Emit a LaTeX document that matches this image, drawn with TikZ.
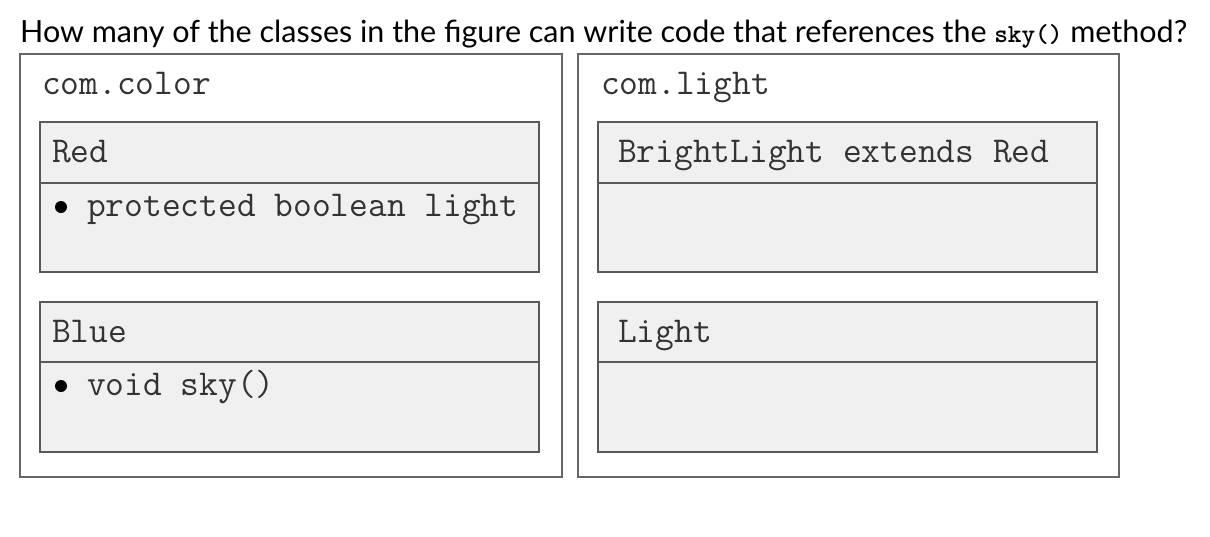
\documentclass[tikz,border=0pt]{standalone}
\usepackage{fontspec}
\setmainfont{Lato}
\begin{document}
\begin{tikzpicture}[x=1pt,y=-1pt,
  pkg/.style={draw=black!60,line width=1.6pt,fill=white},
  cls/.style={draw=black!65,line width=1.4pt,fill=gray!12},
  divider/.style={draw=black!65,line width=1.4pt},
  mono/.style={anchor=base west,inner sep=0pt,font=\ttfamily\fontsize{36.4}{37}\selectfont,text=black!80},
  title/.style={anchor=base west,inner sep=0pt,font=\fontsize{30.5}{31}\selectfont}]
\useasboundingbox (0,0) rectangle (1210,536);
\fill[white] (0,0) rectangle (1210,536);
% title
\node[title] (q) at (20,42) {How many of the classes in the figure can write code that references the {\ttfamily\bfseries\fontsize{26}{26}\selectfont sky()} method?};
% packages
\draw[pkg] (20,54) rectangle (562,477);
\draw[pkg] (578,54) rectangle (1119,477);
\node[mono] (p1) at (42,94) {com.color};
\node[mono] (p2) at (601,94) {com.light};
% classes left
\draw[cls] (40,122) rectangle (539,272);
\draw[divider] (40,183) -- (539,183);
\draw[cls] (40,302) rectangle (539,452);
\draw[divider] (40,362) -- (539,362);
% classes right
\draw[cls] (598,122) rectangle (1097,272);
\draw[divider] (598,183) -- (1097,183);
\draw[cls] (598,302) rectangle (1097,452);
\draw[divider] (598,362) -- (1097,362);
% texts
\node[mono] (red) at (52,162) {Red};
\fill[black] (61,207) circle (6);
\node[mono] (redm) at (87,216) {protected boolean light};
\node[mono] (blue) at (52,342) {Blue};
\fill[black] (61,386) circle (6);
\node[mono] (bluem) at (87,395) {void sky()};
\node[mono] (bl) at (618,162) {BrightLight extends Red};
\node[mono] (li) at (618,342) {Light};
\end{tikzpicture}
\end{document}
